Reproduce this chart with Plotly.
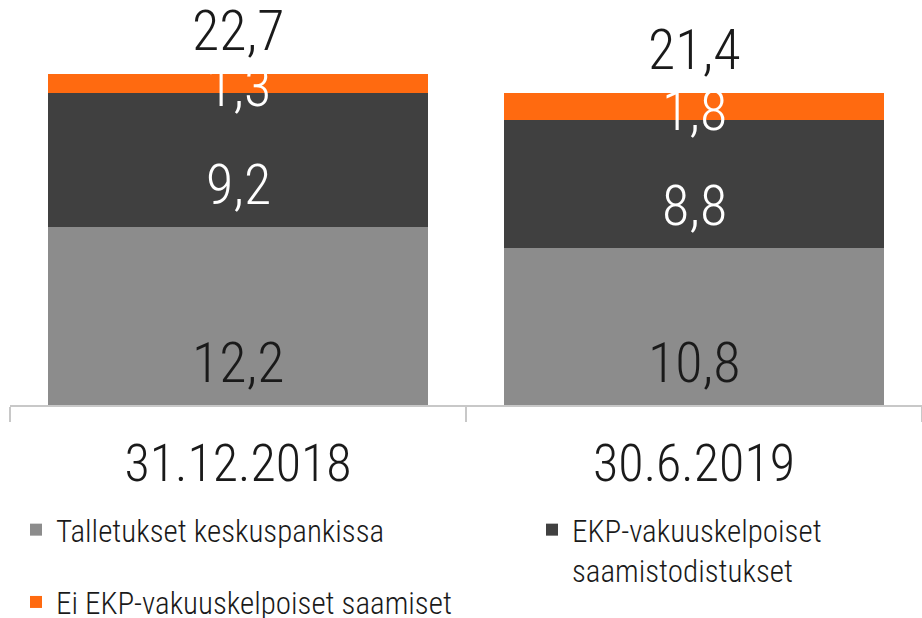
import plotly.graph_objects as go

# Data
dates = ["31.12.2018", "30.6.2019"]
talletukset = [12.2, 10.8]
ekp_kelpoiset = [9.2, 8.8]
ei_ekp = [1.3, 1.8]
totals = [22.7, 21.4]

series_names = [
    "Talletukset keskuspankissa",
    "EKP-vakuuskelpoiset<br>saamistodistukset",
    "Ei EKP-vakuuskelpoiset saamiset",
]
series_values = [talletukset, ekp_kelpoiset, ei_ekp]
series_colors = ["#8c8c8c", "#404040", "#ff6a10"]
label_colors = ["#1a1a1a", "#ffffff", "#ffffff"]
series_legends = ["legend", "legend2", "legend"]

FONT = ("Roboto Condensed, Open Sans Condensed, DejaVu Sans Condensed, "
        "Liberation Sans Narrow, Arial Narrow, Roboto, sans-serif")
WEIGHT = 300

fig = go.Figure()
for k, (name, vals, col, lg) in enumerate(zip(series_names, series_values,
                                              series_colors, series_legends)):
    fig.add_trace(go.Bar(
        x=dates, y=vals, name=name,
        marker=dict(color=col, line=dict(width=0)),
        width=0.833,
        legend=lg, legendgroup=f"g{k}",
    ))

annotations = []
# segment value labels, set in the lower part of each segment
for i, d in enumerate(dates):
    base = 0.0
    for vals, tc in zip(series_values, label_colors):
        v = vals[i]
        ypos = base + min(2.9, v * 0.34)
        annotations.append(dict(
            x=d, y=ypos, xref="x", yref="y",
            text=f"{v:.1f}".replace(".", ","),
            showarrow=False, yanchor="middle",
            font=dict(family=FONT, size=56, color=tc, weight=WEIGHT),
        ))
        base += v
    # totals above the stacks
    annotations.append(dict(
        x=d, y=totals[i], xref="x", yref="y",
        text=f"{totals[i]:.1f}".replace(".", ","),
        showarrow=False, yanchor="bottom", yshift=8,
        font=dict(family=FONT, size=56, color="#1a1a1a", weight=WEIGHT),
    ))

legend_common = dict(
    orientation="v",
    xref="container", yref="container",
    xanchor="left", yanchor="top",
    valign="top",
    font=dict(family=FONT, size=31, color="#1a1a1a", weight=WEIGHT),
    traceorder="grouped",
    tracegroupgap=29,
    itemclick=False, bgcolor="rgba(0,0,0,0)",
)

fig.update_layout(
    barmode="stack",
    width=922, height=618,
    margin=dict(l=10, r=0, t=41, b=213, autoexpand=False),
    paper_bgcolor="white", plot_bgcolor="white",
    font=dict(family=FONT, color="#1a1a1a"),
    annotations=annotations,
    showlegend=True,
    legend=dict(x=16 / 922, y=1 - 503 / 618, **legend_common),
    legend2=dict(x=532 / 922, y=1 - 503 / 618, **legend_common),
    xaxis=dict(
        type="category",
        range=[-0.5, 1.5],
        showline=True, linecolor="#c8c8c8", linewidth=1.5,
        ticks="outside", tickson="boundaries", ticklen=15,
        tickcolor="#c8c8c8", tickwidth=1.5,
        ticklabelstandoff=12,
        tickfont=dict(family=FONT, size=52, color="#1a1a1a", weight=WEIGHT),
        showgrid=False, zeroline=False,
    ),
    yaxis=dict(
        range=[0, 25],
        visible=False, showgrid=False, zeroline=False,
    ),
)

fig.write_html("out.html")
